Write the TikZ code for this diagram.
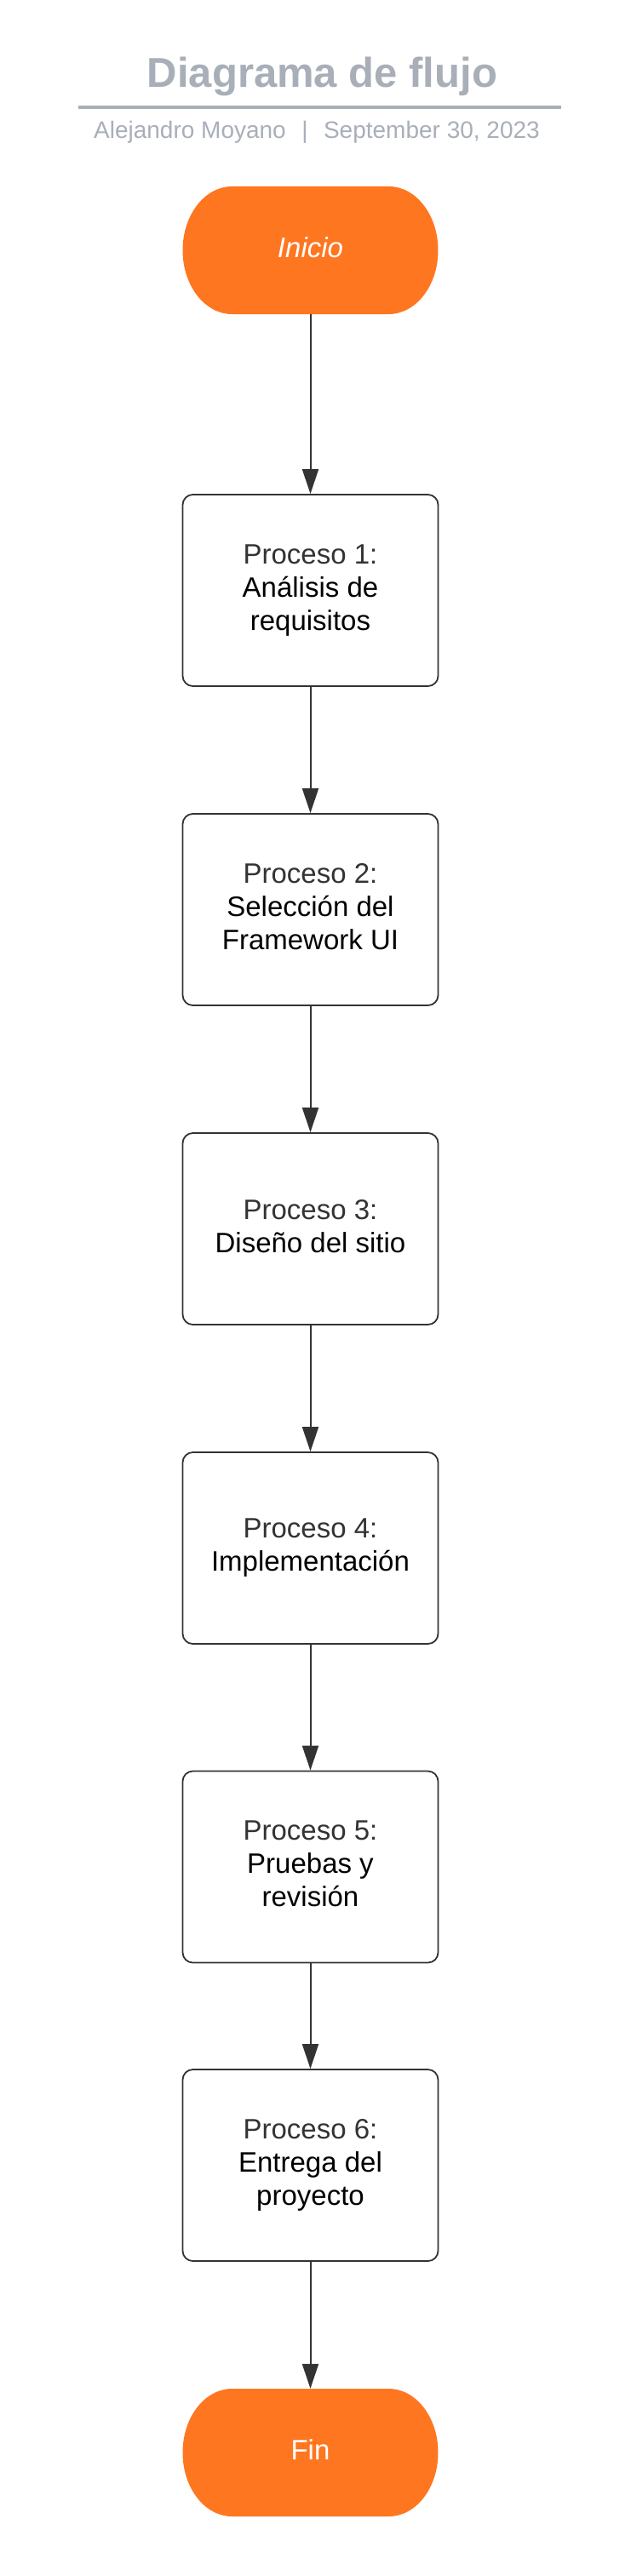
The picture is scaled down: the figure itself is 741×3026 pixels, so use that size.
\documentclass[tikz,border=0pt]{standalone}
\usepackage{fontspec}
\setmainfont{Liberation Sans}
\usetikzlibrary{arrows.meta}
\definecolor{lucidorange}{HTML}{FF7620}
\definecolor{titlegray}{HTML}{A9AFB9}
\definecolor{darkline}{HTML}{333333}
\begin{document}
\begin{tikzpicture}[x=1pt,y=-1pt]
\tikzstyle{every node}+=[inner sep=0pt]
\tikzstyle{proc}=[draw=darkline, line width=1.8pt, rounded corners=12pt, minimum width=300pt, minimum height=225pt, align=center, text depth=7pt, font=\fontsize{33}{39}\selectfont]
\tikzstyle{term}=[minimum width=300pt, minimum height=150pt, text=white, text depth=7pt, font=\fontsize{33}{39}\selectfont,
  path picture={\fill[lucidorange] ([xshift=58pt]path picture bounding box.north west) -- ([xshift=-58pt]path picture bounding box.north east) arc[start angle=90, end angle=-90, x radius=58pt, y radius=75pt] -- ([xshift=58pt]path picture bounding box.south west) arc[start angle=270, end angle=90, x radius=58pt, y radius=75pt] -- cycle;}]
\tikzstyle{flow}=[draw=darkline, line width=2pt, -{Triangle[width=19pt,length=29pt]}]
\tikzstyle{lbl}=[text=darkline]

\fill [white] (0,0) rectangle (741,3026);
\useasboundingbox (0,0) rectangle (741,3026);

\node [anchor=base, text=titlegray, font=\fontsize{49}{56}\selectfont\bfseries] (title) at (378.5,103) {Diagrama de flujo};
\draw [titlegray, line width=3.5pt] (92,126) -- (659,126);
\node [anchor=base, text=titlegray, font=\fontsize{28}{32}\selectfont] (byline) at (372,163) {Alejandro Moyano\hspace{0.66em}|\hspace{0.66em}September 30, 2023};

\node [term, font=\fontsize{33}{39}\selectfont\itshape] (inicio) at (364.5,294) {Inicio};
\node [proc] (p1) at (364.5,693.5) {{\color{darkline}Proceso 1:}\\Análisis de\\requisitos};
\node [proc] (p2) at (364.5,1068.5) {{\color{darkline}Proceso 2:}\\Selección del\\Framework UI};
\node [proc] (p3) at (364.5,1443.5) {{\color{darkline}Proceso 3:}\\Diseño del sitio};
\node [proc] (p4) at (364.5,1818.5) {{\color{darkline}Proceso 4:}\\Implementación};
\node [proc] (p5) at (364.5,2193) {{\color{darkline}Proceso 5:}\\Pruebas y\\revisión};
\node [proc] (p6) at (364.5,2543.5) {{\color{darkline}Proceso 6:}\\Entrega del\\proyecto};
\node [term] (fin) at (364.5,2881) {Fin};

\draw [flow] (inicio.south) -- (p1.north);
\draw [flow] (p1.south) -- (p2.north);
\draw [flow] (p2.south) -- (p3.north);
\draw [flow] (p3.south) -- (p4.north);
\draw [flow] (p4.south) -- (p5.north);
\draw [flow] (p5.south) -- (p6.north);
\draw [flow] (p6.south) -- (fin.north);
\end{tikzpicture}
\end{document}
